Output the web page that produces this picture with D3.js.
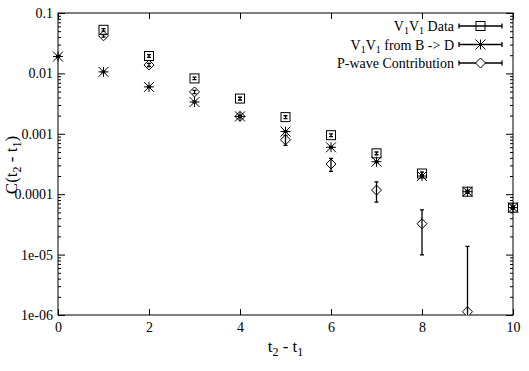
<!DOCTYPE html>
<html>
    <head>
        <meta charset="utf-8">
        <title>Correlator</title>
        <script type="text/javascript" src="https://cdn.jsdelivr.net/npm/d3@7"></script>
    </head>
    <body style="margin:0">
        <svg id="svg"></svg>

        <script>
            var WIDTH = 529;
            var HEIGHT = 371;
            var LEFT = 58, RIGHT = 513, TOP = 13, BOTTOM = 315;

            // V1V1 Data (squares)
            var data_t = [1, 2, 3, 4, 5, 6, 7, 8, 9, 10];
            var data_v = [0.0527, 0.0194, 0.00826, 0.00383, 0.00189, 0.000948, 0.000475, 0.00022, 0.00011, 0.00006];
            var data_e = [0.0025, 0.0010, 0.0004, 0.0002, 0.0001, 0.00005, 0.000025, 0.000012, 0.000007, 0.000004];

            // V1V1 from B -> D (stars)
            var bd_t = [0, 1, 2, 3, 4, 5, 6, 7, 8, 9, 10];
            var bd_v = [0.019, 0.0106, 0.00598, 0.00336, 0.00194, 0.00109, 0.000598, 0.000345, 0.0002, 0.00011, 0.00006];
            var bd_e = [0.0006, 0.0003, 0.00018, 0.0001, 0.00006, 0.00003, 0.000018, 0.00001, 0.000006, 0.000003, 0.000002];

            // P-wave Contribution (diamonds)
            var pw_t = [1, 2, 3, 4, 5, 6, 7, 8, 9];
            var pw_v = [0.0419, 0.0138, 0.00494, 0.00194, 0.000794, 0.000316, 0.000117, 0.0000324, 0.00000113];
            var pw_e = [0.002, 0.0008, 0.0003, 0.0001, 0.00015, 0.000077, 0.000043, 0.0000225, 0.0000126];

            var x_ticks = [0, 2, 4, 6, 8, 10];
            var y_ticks = [0.1, 0.01, 0.001, 0.0001, 0.00001, 0.000001];
            var y_tick_labels = ["0.1", "0.01", "0.001", "0.0001", "1e-05", "1e-06"];
            var legend_labels = ["Data", "from B -> D", "P-wave Contribution"];

            var FONT = '"Liberation Serif"';

            var svg = d3.select('#svg')
                        .attr('width', WIDTH)
                        .attr('height', HEIGHT);

            var x = d3.scaleLinear().domain([0, 10]).range([LEFT, RIGHT]);
            var y = d3.scaleLog().domain([0.000001, 0.1]).range([BOTTOM, TOP]);

            var minor = [];
            for (var p = -6; p < -1; p++) {
                for (var m = 2; m < 10; m++) minor.push(m * Math.pow(10, p));
            }

            svg.append("clipPath").attr("id", "clip")
                .append("rect")
                .attr("x", LEFT - 8).attr("y", TOP)
                .attr("width", RIGHT - LEFT + 16).attr("height", BOTTOM - TOP);

            // axes with inward ticks
            var fmt = function(d){ return y_tick_labels[y_ticks.indexOf(d)]; };

            svg.append("g").attr("transform", "translate(0," + BOTTOM + ")")
                .call(d3.axisBottom(x).tickValues(x_ticks).tickSize(-6).tickPadding(7).tickFormat(d3.format("d")));
            svg.append("g").attr("transform", "translate(0," + TOP + ")")
                .call(d3.axisTop(x).tickValues(x_ticks).tickSize(-6).tickFormat(""));
            svg.append("g").attr("transform", "translate(" + LEFT + ",0)")
                .call(d3.axisLeft(y).tickValues(y_ticks).tickSize(-7).tickPadding(5).tickFormat(fmt));
            svg.append("g").attr("transform", "translate(" + RIGHT + ",0)")
                .call(d3.axisRight(y).tickValues(y_ticks).tickSize(-7).tickFormat(""));
            svg.append("g").attr("transform", "translate(" + LEFT + ",0)")
                .call(d3.axisLeft(y).tickValues(minor).tickSize(-3).tickFormat(""));
            svg.append("g").attr("transform", "translate(" + RIGHT + ",0)")
                .call(d3.axisRight(y).tickValues(minor).tickSize(-3).tickFormat(""));

            svg.selectAll(".domain").remove();
            svg.selectAll(".tick line").attr("stroke", "#000");
            svg.selectAll(".tick text")
               .attr("font-size", "14px")
               .attr("fill", "#000");

            svg.append("rect")
               .attr("x", LEFT).attr("y", TOP)
               .attr("width", RIGHT - LEFT).attr("height", BOTTOM - TOP)
               .attr("fill", "none").attr("stroke", "#000").attr("stroke-width", 1);

            // markers
            var draw_marker = function(g, type, cx, cy){
                if (type == "square") {
                    g.append("rect").attr("x", cx - 4.5).attr("y", cy - 4.5)
                     .attr("width", 9).attr("height", 9)
                     .attr("fill", "none").attr("stroke", "#000");
                } else if (type == "star") {
                    var s = 5;
                    g.append("path")
                     .attr("d", "M" + (cx - s) + "," + cy + "H" + (cx + s) +
                                "M" + cx + "," + (cy - s) + "V" + (cy + s) +
                                "M" + (cx - s) + "," + (cy - s) + "L" + (cx + s) + "," + (cy + s) +
                                "M" + (cx - s) + "," + (cy + s) + "L" + (cx + s) + "," + (cy - s))
                     .attr("stroke", "#000").attr("fill", "none");
                } else {
                    var r = 5;
                    g.append("path")
                     .attr("d", "M" + (cx - r) + "," + cy + "L" + cx + "," + (cy - r) +
                                "L" + (cx + r) + "," + cy + "L" + cx + "," + (cy + r) + "Z")
                     .attr("stroke", "#000").attr("fill", "white");
                }
            };

            var draw_series = function(ts, vs, es, type){
                var g = svg.append("g").attr("clip-path", "url(#clip)");
                ts.forEach(function(t, i){
                    var cx = x(t);
                    var hi = vs[i] + es[i];
                    var lo = vs[i] - es[i];
                    var y_hi = y(hi);
                    var y_lo = lo > 0 ? y(lo) : BOTTOM + 10;
                    draw_marker(g, type, cx, y(vs[i]));
                    g.append("path")
                     .attr("d", "M" + cx + "," + y_hi + "V" + y_lo +
                                "M" + (cx - 2) + "," + y_hi + "H" + (cx + 2) +
                                "M" + (cx - 2) + "," + y_lo + "H" + (cx + 2))
                     .attr("stroke", "#000").attr("stroke-width", 1.3).attr("fill", "none");
                });
            };

            draw_series(pw_t, pw_v, pw_e, "diamond");
            draw_series(data_t, data_v, data_e, "square");
            draw_series(bd_t, bd_v, bd_e, "star");

            // legend
            var types = ["square", "star", "diamond"];
            var rows = [26, 44.5, 63];
            var lg = svg.append("g");
            legend_labels.forEach(function(lab, i){
                var ty = rows[i];
                var txt = lg.append("text")
                    .attr("x", 454).attr("y", ty + 5)
                    .attr("text-anchor", "end")
                    .attr("font-size", "14px");
                if (i < 2) {
                    txt.append("tspan").text("V");
                    txt.append("tspan").text("1").attr("font-size", "10px").attr("dy", 3);
                    txt.append("tspan").text("V").attr("dy", -3);
                    txt.append("tspan").text("1").attr("font-size", "10px").attr("dy", 3);
                    txt.append("tspan").text(" " + lab).attr("dy", -3);
                } else {
                    txt.text(lab);
                }
                lg.append("path")
                  .attr("d", "M459," + ty + "H502M459," + (ty - 2.5) + "V" + (ty + 2.5) +
                             "M502," + (ty - 2.5) + "V" + (ty + 2.5))
                  .attr("stroke", "#000").attr("stroke-width", 1.3);
                draw_marker(lg, types[i], 480.5, ty);
            });

            // axis titles
            var xt = svg.append("text")
                .attr("x", (LEFT + RIGHT) / 2).attr("y", 352)
                .attr("text-anchor", "middle").attr("font-size", "17px");
            xt.append("tspan").text("t");
            xt.append("tspan").text("2").attr("font-size", "12px").attr("dy", 4);
            xt.append("tspan").text(" - t").attr("dy", -4);
            xt.append("tspan").text("1").attr("font-size", "12px").attr("dy", 4);

            var yt = svg.append("text")
                .attr("transform", "translate(17,165) rotate(-90)")
                .attr("text-anchor", "middle").attr("font-size", "17px");
            yt.append("tspan").text("C(t");
            yt.append("tspan").text("2").attr("font-size", "12px").attr("dy", 4);
            yt.append("tspan").text(" - t").attr("dy", -4);
            yt.append("tspan").text("1").attr("font-size", "12px").attr("dy", 4);
            yt.append("tspan").text(")").attr("dy", -4);

            svg.selectAll("text").style("font-family", FONT);
        </script>
    </body>
</html>
